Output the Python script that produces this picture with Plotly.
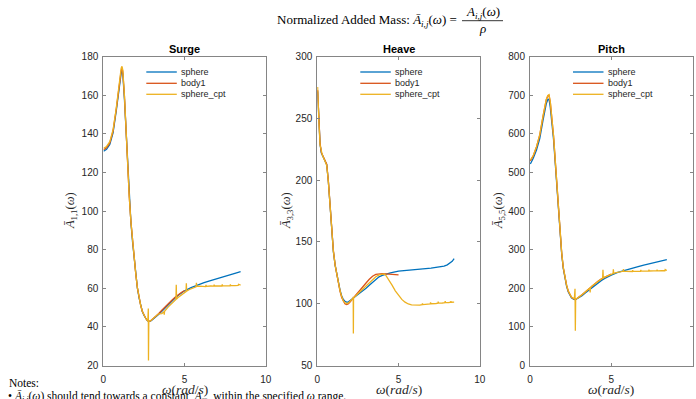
import plotly.graph_objects as go

W, H = 696, 399

# ---------------- DATA ----------------
# Surge (1,1)
surge_w_sphere = [0.02,0.2,0.4,0.6,0.8,0.9,1.0,1.1,1.15,1.2,1.3,1.4,1.5,1.6,1.7,1.8,1.9,2.0,2.1,2.2,
                  2.3,2.4,2.5,2.6,2.7,2.8,2.9,3.0,3.2,3.4,3.6,3.8,4.0,4.2,4.4,4.6,4.8,5.0,5.4,5.8,
                  6.2,6.6,7.0,7.4,7.8,8.2,8.45]
surge_sphere = [131.0,132.0,134.5,140.5,152,159,166,171.5,172.8,171,158,140,122,106,94,84,75,67,60,55,
                51,48,46,44.5,43.3,42.8,43,43.6,44.9,46.4,48.1,49.9,51.6,53.2,54.8,56.3,57.6,58.7,60.3,61.7,
                62.9,64,65.1,66.1,67.1,68,68.6]
surge_w_body1 = surge_w_sphere[:38]
surge_body1 = [131.8,132.8,135.3,141.5,153,160.2,167.3,172.8,174,172.3,159.5,141,123,107,94.5,84.3,75.2,67.2,60.2,55.2,
               51.2,48.1,46.1,44.6,43.4,42.9,43.1,43.8,45.2,46.8,48.6,50.4,52.1,53.7,55.2,56.6,57.8,58.8]
surge_w_cpt = [0.02,0.2,0.4,0.6,0.8,0.9,1.0,1.1,1.15,1.2,1.3,1.4,1.5,1.6,1.7,1.8,1.9,2.0,2.1,2.2,
               2.3,2.4,2.5,2.6,2.7,2.74,2.77,2.78,2.8,2.9,3.0,3.2,3.4,3.6,3.73,3.75,3.77,4.0,4.2,4.4,
               4.47,4.49,4.51,4.6,4.8,5.0,5.09,5.11,5.13,5.3,5.5,5.71,5.73,5.75,5.9,6.1,6.3,6.32,6.34,6.6,
               6.8,6.82,6.84,7.0,7.3,7.32,7.34,7.6,7.8,7.82,7.84,8.1,8.3,8.32,8.45]
surge_cpt = [132.5,133.5,136,142,153.5,161,168.5,174,175,173,160,141.5,123,107,94.5,84.3,75.2,67.2,60.2,55.2,
             51.2,48.1,46.1,44.6,43.4,43.1,49.5,22.6,42.9,43.1,43.8,45.2,46.8,46.9,47.9,46.3,48.1,50.4,52.1,53.7,
             54.2,61.8,54.5,55.2,56.6,57.8,58.3,62.6,58.5,59.4,60.2,60.8,62.9,61.0,61.1,61.0,60.9,61.8,61.0,61.2,
             61.1,61.9,61.2,61.3,61.2,62.0,61.3,61.3,61.3,62.0,61.4,61.4,61.5,62.1,61.7]

# Heave (3,3)
heave_w_sphere = [0.02,0.05,0.1,0.17,0.25,0.35,0.47,0.58,0.68,0.78,0.89,0.99,1.1,1.2,1.3,1.4,1.5,1.6,1.7,1.8,
                  1.9,2.0,2.2,2.4,2.6,2.8,3.0,3.2,3.4,3.6,3.8,4.0,4.2,4.5,5.0,5.5,6.0,6.5,7.0,7.5,
                  7.8,8.0,8.2,8.3,8.42]
heave_sphere = [272,262,245,229,222,219,216,212.5,199,180,158,142,131,124,117,111,106.5,103.5,102,101.3,
                101.3,102.2,104.5,106.5,108.5,110.3,112.5,115,117.5,120,121.8,123,124,125,126.4,127.2,127.8,128.3,128.9,129.7,
                130.5,131.5,133,134.3,136.5]
heave_w_body1 = heave_w_sphere[:35]
heave_body1 = [273,263,246,230,222.5,219.5,216.5,213,199.5,180.5,158.5,143,131,123.5,116,110,105,101.8,100,99.4,
               99.8,101.2,104.5,107.8,110.8,113.8,116.8,119.8,122.3,123.8,124.3,124.3,124.1,123.8,123.3]
heave_w_cpt = [0.02,0.05,0.1,0.17,0.25,0.31,0.47,0.58,0.68,0.78,0.89,0.99,1.1,1.2,1.3,1.4,1.5,1.6,1.7,1.8,
               1.9,2.0,2.1,2.2,2.21,2.22,2.23,2.4,2.6,2.8,3.0,3.2,3.4,3.6,3.8,4.0,4.1,4.2,4.4,4.6,
               4.8,5.0,5.2,5.4,5.6,5.8,6.0,6.3,6.45,6.47,6.5,6.8,6.95,6.97,7.0,7.3,7.42,7.44,7.47,7.7,
               7.85,7.87,7.9,8.1,8.2,8.22,8.25,8.42]
heave_cpt = [275.5,262,247,228.5,222,220.4,215.6,212,199,179,157.5,142.5,131,123.5,116.5,110.5,105.8,102.3,100.8,100.2,
             100.5,101.8,103,104.5,105.5,76,104.8,106.8,109.3,111.8,114.5,117.2,119.6,121.8,123.3,124.1,124.2,123.3,119.5,115,
             110.5,106.5,103.5,101.3,99.8,99.1,98.8,98.9,99.2,100.3,99.3,99.6,99.8,101,100,100.2,100.4,101.6,100.5,100.6,
             100.8,102.1,100.9,101,101.2,102,101.2,101.3]

# Pitch (5,5)
pitch_w_sphere = [0.02,0.2,0.4,0.6,0.8,0.9,1.0,1.1,1.17,1.25,1.35,1.45,1.55,1.65,1.75,1.85,1.95,2.05,2.15,2.25,
                  2.35,2.45,2.55,2.65,2.75,2.85,3.0,3.2,3.4,3.6,3.8,4.0,4.2,4.4,4.6,4.8,5.0,5.4,5.8,6.2,
                  6.6,7.0,7.4,7.8,8.2,8.42]
pitch_sphere = [522,537,558,588,635,660,678,689,690,668,634,585,526,462,398,340,289,251,225,206,
                191,181,175.5,172.5,171,172,175,181,188,195,202,209,215,220.5,225.5,230,234,241,246.5,251,
                255.5,260,264,267.5,271.5,274]
pitch_w_body1 = pitch_w_sphere[:37]
pitch_body1 = [530,543,566,597,645,670,688,699,700,682,645,594,533,467,401,343,291,253,227,208,
               193,183,177,174,172,172.5,176.5,183,190.5,198,205.5,212.5,219,224.5,229,233,236.5]
pitch_w_cpt = [0.02,0.2,0.4,0.6,0.8,0.9,1.0,1.1,1.17,1.25,1.35,1.45,1.55,1.65,1.75,1.85,1.95,2.05,2.15,2.25,
               2.35,2.45,2.55,2.65,2.73,2.77,2.79,2.81,2.9,3.0,3.2,3.4,3.6,3.68,3.7,3.72,3.8,4.0,4.2,4.4,
               4.47,4.49,4.51,4.6,4.8,5.0,5.11,5.13,5.15,5.3,5.5,5.73,5.75,5.77,5.9,6.1,6.3,6.32,6.34,6.6,
               6.8,6.82,6.84,7.0,7.3,7.32,7.34,7.6,7.8,7.82,7.84,8.1,8.3,8.32,8.42]
pitch_cpt = [532,544,567,598,646,671,689,700,702,683,646,595,534,468,402,344,292,254,227.5,208.5,
             193.5,183.5,177.5,174.5,173,199,90,172.5,174,176.5,183,190.5,198,201,189,201.5,205.5,212.5,219,224.5,
             226.5,248,227,229,233,236.5,238,249.5,238.5,240.5,242.5,244,250,244,244,243.5,243.5,247,243.7,244,
             244,247.5,244.3,244.5,244.5,248,244.8,245,245,248.5,245.3,245.5,245.5,248.5,246]

series_names = ["sphere", "body1", "sphere_cpt"]
series_colors = ["#0072BD", "#D95319", "#EDB120"]
panel_titles = ["Surge", "Heave", "Pitch"]
ylabels = ["1,1", "3,3", "5,5"]
x_ticks = [0, 5, 10]
y_ranges = [[20, 180], [50, 300], [0, 800]]
y_dticks = [20, 50, 100]

panels = [
    [(surge_w_sphere, surge_sphere), (surge_w_body1, surge_body1), (surge_w_cpt, surge_cpt)],
    [(heave_w_sphere, heave_sphere), (heave_w_body1, heave_body1), (heave_w_cpt, heave_cpt)],
    [(pitch_w_sphere, pitch_sphere), (pitch_w_body1, pitch_body1), (pitch_w_cpt, pitch_cpt)],
]

# ---------------- LAYOUT (pixels) ----------------
ax_left = [103.3, 317.3, 530.0]
ax_w = 162.5
ax_top, ax_bot = 56.7, 365.5

def px(x):
    return x / W

def py(y):
    return 1 - y / H

AXC = "#858585"
TXT = "#262626"
SANS = "Liberation Sans, Arial, sans-serif"
SERIF = "Liberation Serif, DejaVu Serif, serif"

fig = go.Figure()
for i, panel in enumerate(panels):
    sfx = "" if i == 0 else str(i + 1)
    for (wx, vy), name, col in zip(panel, series_names, series_colors):
        fig.add_trace(go.Scatter(x=wx, y=vy, mode="lines", name=name,
                                 line=dict(color=col, width=1.3),
                                 xaxis="x" + sfx, yaxis="y" + sfx, showlegend=False))
    fig.layout["xaxis" + sfx] = dict(
        domain=[px(ax_left[i]), px(ax_left[i] + ax_w)], range=[0, 10],
        tickvals=x_ticks, anchor="y" + sfx, showline=True, linecolor=AXC, linewidth=1,
        mirror="ticks", ticks="inside", ticklen=3, tickcolor=AXC, showgrid=False,
        zeroline=False, tickfont=dict(family=SANS, size=10, color=TXT), automargin=False,
        ticklabelstandoff=4)
    fig.layout["yaxis" + sfx] = dict(
        domain=[py(ax_bot), py(ax_top)], range=y_ranges[i], dtick=y_dticks[i],
        anchor="x" + sfx, showline=True, linecolor=AXC, linewidth=1,
        mirror="ticks", ticks="inside", ticklen=3, tickcolor=AXC, showgrid=False,
        zeroline=False, tickfont=dict(family=SANS, size=10, color=TXT), automargin=False,
        ticklabelstandoff=2)

annotations = []
shapes = []
cx_list = [l + ax_w / 2 for l in ax_left]
ylab_x = [71, 287, 499]
for i in range(3):
    annotations.append(dict(text="<b>" + panel_titles[i] + "</b>", x=px(cx_list[i]), y=py(49),
                            xref="paper", yref="paper", showarrow=False, xanchor="center", yanchor="middle",
                            font=dict(family=SANS, size=11, color="#000000")))
    annotations.append(dict(text="<i>Ā</i><sub>" + ylabels[i] + "</sub>(<i>ω</i>)", x=px(ylab_x[i]),
                            y=py((ax_top + ax_bot) / 2), xref="paper", yref="paper", showarrow=False,
                            textangle=-90, xanchor="center", yanchor="middle",
                            font=dict(family=SERIF, size=12.5, color=TXT)))
    annotations.append(dict(text="<i>ω</i>(<i>rad</i>/<i>s</i>)", x=px(cx_list[i]), y=py(389.5),
                            xref="paper", yref="paper", showarrow=False, xanchor="center", yanchor="middle",
                            font=dict(family=SERIF, size=13.5, color=TXT)))
    # legend
    for k, (name, col) in enumerate(zip(series_names, series_colors)):
        ly = [72, 83.3, 94.3][k]
        shapes.append(dict(type="line", xref="paper", yref="paper",
                           x0=px(ax_left[i] + 43), x1=px(ax_left[i] + 73.5), y0=py(ly), y1=py(ly),
                           line=dict(color=col, width=1.3)))
        annotations.append(dict(text=name, x=px(ax_left[i] + 75.5), y=py(ly), xref="paper", yref="paper",
                                showarrow=False, xanchor="left", yanchor="middle",
                                font=dict(family=SANS, size=9, color=TXT)))

# main title with fraction
annotations.append(dict(text="Normalized Added Mass: <i>Ā</i><sub><i>i,j</i></sub>(<i>ω</i>) =",
                        x=px(459), y=py(20), xref="paper", yref="paper", showarrow=False,
                        xanchor="right", yanchor="middle", font=dict(family=SERIF, size=13, color="#000000")))
annotations.append(dict(text="<i>A</i><sub><i>i,j</i></sub>(<i>ω</i>)", x=px(482.5), y=py(12.5),
                        xref="paper", yref="paper", showarrow=False, xanchor="center", yanchor="middle",
                        font=dict(family=SERIF, size=13, color="#000000")))
annotations.append(dict(text="<i>ρ</i>", x=px(482.5), y=py(28.5), xref="paper", yref="paper",
                        showarrow=False, xanchor="center", yanchor="middle",
                        font=dict(family=SERIF, size=13, color="#000000")))
shapes.append(dict(type="line", xref="paper", yref="paper", x0=px(462), x1=px(503), y0=py(20.7), y1=py(20.7),
                   line=dict(color="#000000", width=0.8)))

# notes
annotations.append(dict(text="Notes:", x=px(7), y=py(383), xref="paper", yref="paper", showarrow=False,
                        xanchor="left", yanchor="middle", font=dict(family=SERIF, size=11.5, color="#000000")))
annotations.append(dict(text="• <i>Ā</i><sub><i>i,j</i></sub>(<i>ω</i>) should tend towards a constant, "
                             "<i>A</i><sub>∞</sub>, within the specified <i>ω</i> range.",
                        x=px(6), y=py(397), xref="paper", yref="paper", showarrow=False,
                        xanchor="left", yanchor="middle", font=dict(family=SERIF, size=11.5, color="#000000")))

fig.update_layout(width=W, height=H, autosize=False, margin=dict(l=0, r=0, t=0, b=0, pad=0),
                  paper_bgcolor="white", plot_bgcolor="white", showlegend=False,
                  annotations=annotations, shapes=shapes)

fig.write_html("out.html")
